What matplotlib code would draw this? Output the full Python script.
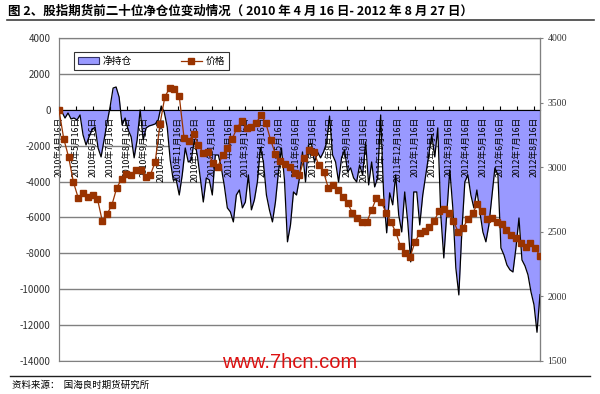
import matplotlib
matplotlib.use("Agg")
import matplotlib.pyplot as plt
from matplotlib.patches import Patch
from matplotlib.lines import Line2D
import pandas as pd

plt.rcParams['font.family'] = ['Noto Sans CJK SC', 'DejaVu Sans']
plt.rcParams['axes.unicode_minus'] = False

START = "2010-04-16"
END = "2012-08-27"

# 前二十位净持仓（手），等间隔采样
net_pos = [
    -10, -120, -460, -180, -510, -460, -570, -290, -1400, -1960,
    -1510, -1120, -960, -2130, -2630, -1680, -730, 160, 1210, 1270,
    710, -850, -460, -1120, -1510, -2680, -1680, -10, -1680, -1010,
    -900, -850, -790, -570, 210, -120, -960, -2800, -3910, -3910,
    -4750, -3630, -2130, -2910, -2800, -1680, -2520, -3800, -5140, -3800,
    -3910, -4750, -2520, -2520, -3240, -4240, -5470, -5690, -6250, -4750,
    -4470, -5470, -5140, -3630, -5580, -5020, -4020, -2130, -2910, -4750,
    -5580, -6250, -5140, -3460, -2130, -3910, -7360, -6420, -4580, -4750,
    -3800, -2350, -4020, -1960, -1900, -2910, -2350, -2680, -2350, -1850,
    -350, -2520, -2910, -4020, -2680, -2240, -3460, -3240, -3800, -4020,
    -3080, -3630, -1790, -4190, -2910, -4300, -3800, -290, -4750, -6860,
    -4630, -5300, -3630, -5860, -6810, -4580, -6250, -8480, -4580, -4580,
    -6420, -4750, -3630, -2520, -1400, -2630, -1010, -5860, -8260, -5750,
    -3350, -5470, -8810, -10320, -6810, -4020, -3630, -4750, -5470, -4470,
    -5690, -6810, -7360, -6420, -4800, -3240, -3630, -7700, -8090, -8650,
    -8920, -9040, -7700, -6030, -8370, -8700, -9200, -10150, -10870, -12400,
    -10300,
]

# 沪深300股指期货价格（点），等间隔采样
price = [
    3443, 3218, 3079, 2885, 2762, 2800, 2769, 2785, 2754, 2584,
    2638, 2707, 2839, 2909, 2947, 2940, 2978, 2978, 2924, 2940,
    3040, 3334, 3543, 3613, 3605, 3551, 3226, 3203, 3257, 3172,
    3110, 3118, 3033, 3002, 3094, 3149, 3218, 3303, 3358, 3303,
    3311, 3342, 3404, 3342, 3211, 3102, 3048, 3025, 3002, 2955,
    2940, 3071, 3133, 3118, 3017, 2963, 2839, 2862, 2824, 2769,
    2723, 2646, 2607, 2576, 2576, 2669, 2762, 2731, 2646, 2576,
    2498, 2390, 2336, 2305, 2421, 2491, 2506, 2537, 2584, 2661,
    2676, 2646, 2584, 2498, 2529, 2599, 2646, 2715, 2661, 2599,
    2607, 2576, 2560, 2514, 2475, 2452, 2413, 2382, 2413, 2375,
    2313,
]

net_dates = pd.date_range(START, END, periods=len(net_pos))
price_dates = pd.date_range(START, END, periods=len(price))
tick_dates = pd.date_range("2010-04-16", "2012-08-16", freq=pd.DateOffset(months=1))
tick_labels = [f"{d.year}年{d.month}月{d.day}日" for d in tick_dates]
left_ticks = list(range(-14000, 4001, 2000))
right_ticks = list(range(1500, 4001, 500))

FILL = "#9999FF"
BROWN = "#993300"
GRID = "#808080"

fig = plt.figure(figsize=(6.0, 3.94), dpi=100)
ax = fig.add_axes([0.0983, 0.0838, 0.8017, 0.8198])
ax2 = ax.twinx()

# 网格线放在面积图下面
for yv in left_ticks:
    ax.axhline(yv, color=GRID, linewidth=1.0, zorder=0.5)

# -------- 净持仓面积 --------
ax.fill_between(net_dates, net_pos, 0, color=FILL, linewidth=0, zorder=1)
ax.plot(net_dates, net_pos, color="black", linewidth=0.9, zorder=1.2)

# -------- 价格 --------
ax2.plot(price_dates, price, color=BROWN, linewidth=0.9, marker="s",
         markersize=4.0, markeredgecolor=BROWN, markerfacecolor=BROWN, zorder=5)

# -------- 坐标轴 --------
ax.set_ylim(-14000, 4000)
ax.set_yticks(left_ticks)
ax.set_xlim(pd.Timestamp(START), pd.Timestamp(END))

ax.set_xticks(tick_dates)
ax.set_xticklabels(tick_labels)
ax.spines["bottom"].set_position(("data", 0))
ax.spines["bottom"].set_color("black")
ax.tick_params(axis="x", direction="in", length=3, width=0.8, pad=5.0, color="black",
               labelrotation=90, labelsize=6.3)
ax.tick_params(axis="y", length=0, pad=6, labelsize=7, labelcolor="#333333")
for s in ["left", "top"]:
    ax.spines[s].set_color(GRID)

ax2.set_ylim(1500, 4000)
ax2.set_yticks(right_ticks)
ax2.tick_params(axis="y", direction="out", length=2, width=0.8, pad=3.5,
                labelsize=7, labelcolor="#333333", color=GRID)
for tl in ax2.get_yticklabels():
    tl.set_family(["Liberation Serif", "DejaVu Serif"])
for s in ["right", "top", "bottom", "left"]:
    ax2.spines[s].set_color(GRID)

# -------- 图例 --------
handles = [
    Patch(facecolor=FILL, edgecolor="#333366", linewidth=0.8),
    Line2D([], [], color=BROWN, linewidth=0.9, marker="s", markersize=4.0),
]
leg = fig.legend(handles, ["净持仓", "价格"], loc="lower left",
                 bbox_to_anchor=(0.123, 0.822, 0.259, 0.066), mode="expand",
                 ncol=2, fontsize=7, frameon=True, fancybox=False,
                 borderaxespad=0, handlelength=2.2, handletextpad=0.4)
leg.get_frame().set_edgecolor("black")
leg.get_frame().set_linewidth(0.8)

# -------- 标题、来源、水印 --------
fig.text(0.014, 0.972, "图 2、股指期货前二十位净仓位变动情况（ 2010 年 4 月 16 日- 2012 年 8 月 27 日）",
         fontsize=9, fontweight="bold", va="center", ha="left")
fig.add_artist(Line2D([0.012, 0.99], [0.948, 0.948], color="#404040", linewidth=1.2))
fig.add_artist(Line2D([0.017, 0.983], [0.046, 0.046], color="#202020", linewidth=1.0))
fig.text(0.02, 0.023, "资料来源：  国海良时期货研究所", fontsize=6.8, va="center", ha="left")
fig.text(0.483, 0.079, "www.7hcn.com", fontsize=14.5, color="#DD1111",
         family="Liberation Sans", va="center", ha="center")

fig.savefig("out.png", dpi=100)
